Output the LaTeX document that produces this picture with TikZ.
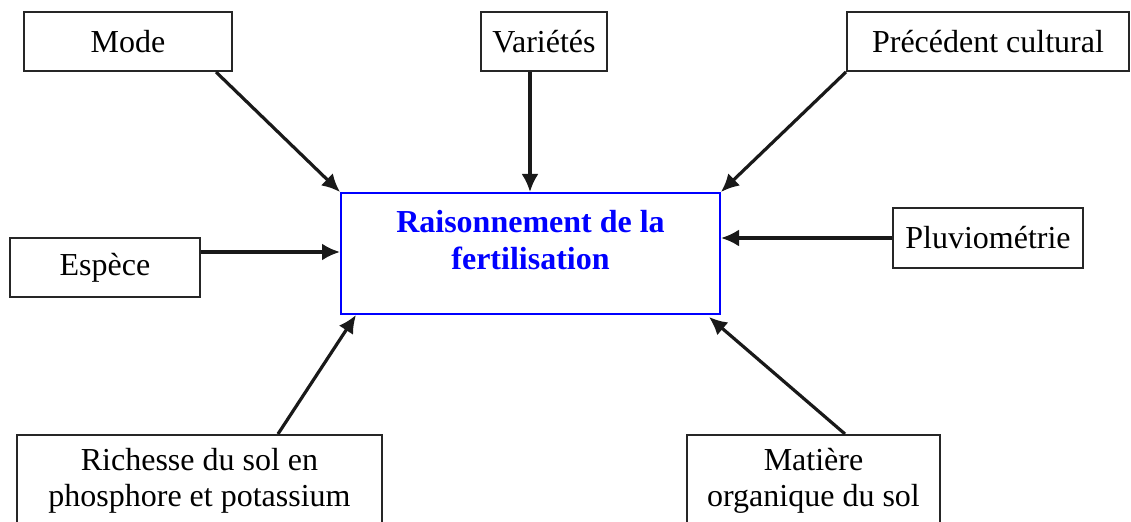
\documentclass[tikz,border=0pt]{standalone}
\usepackage{fontspec}
\setmainfont{Liberation Serif}
\usetikzlibrary{calc,arrows.meta}
\begin{document}
\begin{tikzpicture}[x=0.5pt,y=-0.5pt,
  box/.style={draw=black!85,line width=1pt,fill=white,inner sep=0pt,align=center,font=\fontsize{16}{18}\selectfont},
  hub/.style={draw=blue,line width=1pt,fill=white,inner sep=0pt},
  hubtext/.style={inner sep=0pt,align=center,text=blue,font=\fontsize{16}{18.5}\selectfont\bfseries},
  arr/.style={line width=1.6pt,draw=black!90,-{Latex[length=9pt,width=8.5pt]}}]
\useasboundingbox (0,0) rectangle (1131,522);
\clip (0,0) rectangle (1131,522);
% boxes
\node[box,minimum width=104pt,minimum height=29.5pt] (mode) at (128,41.5) {Mode};
\node[box,minimum width=63pt,minimum height=29.5pt] (var) at (544,41.5) {Variétés};
\node[box,minimum width=141pt,minimum height=29.5pt] (prec) at (988,41.5) {Précédent cultural};
\node[box,minimum width=95pt,minimum height=29.5pt] (esp) at (105,267.5) {Espèce};
\node[box,minimum width=95pt,minimum height=30pt] (pluv) at (988,238) {Pluviométrie};
\node[hub,minimum width=189.5pt,minimum height=60.5pt] (hub) at (530.5,253.5) {};
\node[hubtext] (hubt) at (530.5,240) {Raisonnement de la\\fertilisation};
\node[box,minimum width=182.5pt,minimum height=46pt] (rich) at (199.5,481) {Richesse du sol en\\phosphore et potassium};
\node[box,minimum width=126.5pt,minimum height=46pt] (mat) at (813.5,481) {Matière\\organique du sol};
% connectors
\draw[arr] ($(mode.south east)+(-17,0)$) -- (hub.north west);
\draw[arr] ($(var.south)+(-14,0)$) -- ($(hub.north)+(-0.5,0)$);
\draw[arr] (prec.south west) -- (hub.north east);
\draw[arr] ($(esp.east)+(0,-15.5)$) -- ($(hub.west)+(0,-1.5)$);
\draw[arr] (pluv.west) -- (hub.east |- pluv.west);
\draw[arr] ($(rich.north)+(78.5,0)$) -- ($(hub.south west)+(16,0)$);
\draw[arr] ($(mat.north)+(31.5,0)$) -- ($(hub.south east)+(-12,2)$);
\end{tikzpicture}
\end{document}
